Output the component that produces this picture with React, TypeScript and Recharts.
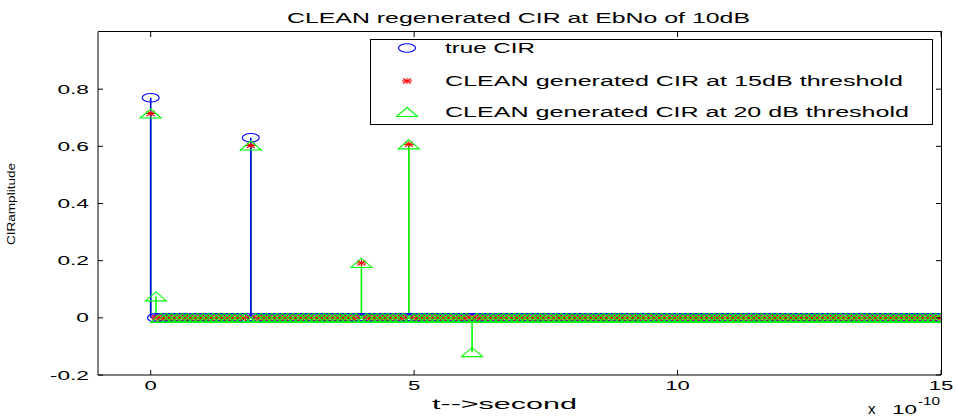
import { ScatterChart, Scatter, XAxis, YAxis, ErrorBar } from "recharts";

const FONT = '"Liberation Sans", Arial, sans-serif';
const BLUE = "#0000ff";
const RED = "#ff0000";
const GREEN = "#00ff00";

// sample grid of the CIR, in units of 1e-10 s
const sampleTimes = Array.from({ length: 151 }, (_, i) => i / 10);

// non-zero taps [time, amplitude]; every other sample sits on 0
const trueTaps: [number, number][] = [
  [0, 0.77],
  [1.9, 0.63],
];
const clean15Taps: [number, number][] = [
  [0, 0.715],
  [1.9, 0.603],
  [4.0, 0.192],
  [4.9, 0.607],
];
const clean20Taps: [number, number][] = [
  [0, 0.715],
  [0.1, 0.075],
  [1.9, 0.603],
  [4.0, 0.192],
  [4.9, 0.607],
  [6.1, -0.12],
];

const xTicks = [0, 5, 10, 15];
const yTicks = [-0.2, 0, 0.2, 0.4, 0.6, 0.8];
const xDomain = [-1, 15];
const yDomain = [-0.2, 1];

// layout
const W = 956;
const H = 419;
const MARGIN = { top: 32, right: 15, bottom: 0, left: 38 };
const Y_AXIS_W = 60;
const X_AXIS_H = 44;
const plotLeft = MARGIN.left + Y_AXIS_W;
const plotRight = W - MARGIN.right;
const plotTop = MARGIN.top;
const plotBottom = H - MARGIN.bottom - X_AXIS_H;

function samples(taps: [number, number][]) {
  return sampleTimes.map((t) => {
    const hit = taps.find(([tt]) => Math.abs(tt - t) < 1e-6);
    return { t, v: hit ? hit[1] : 0 };
  });
}

function stems(taps: [number, number][]) {
  return taps.map(([t, v]) => ({ t, v, err: [v, 0] }));
}

const trueData = samples(trueTaps);
const clean15Data = samples(clean15Taps);
const clean20Data = samples(clean20Taps);

// markers (the figure is stretched horizontally, so symbols are wide)
const CircleMark = ({ cx, cy }: any) => (
  <ellipse cx={cx} cy={cy} rx={8.5} ry={4.2} fill="none" stroke={BLUE} strokeWidth={1.1} />
);

const StarMark = ({ cx, cy }: any) => (
  <g stroke={RED} strokeWidth={1.1}>
    <line x1={cx - 5} y1={cy} x2={cx + 5} y2={cy} />
    <line x1={cx} y1={cy - 3} x2={cx} y2={cy + 3} />
    <line x1={cx - 4} y1={cy - 2.5} x2={cx + 4} y2={cy + 2.5} />
    <line x1={cx - 4} y1={cy + 2.5} x2={cx + 4} y2={cy - 2.5} />
  </g>
);

const TriangleMark = ({ cx, cy }: any) => (
  <polygon
    points={`${cx},${cy - 4.5} ${cx + 10.5},${cy + 4.5} ${cx - 10.5},${cy + 4.5}`}
    fill="none"
    stroke={GREEN}
    strokeWidth={1.1}
  />
);

const NoMark = () => <g />;

const fmt = (v: number) => String(v);

const BottomTick = ({ x, y, payload }: any) => (
  <g>
    <line x1={x} y1={y} x2={x} y2={y - 5} stroke="#000" />
    <text
      transform={`translate(${x},${y + 15}) scale(1.7,1)`}
      textAnchor="middle"
      fontSize={13}
      fontFamily={FONT}
      fill="#000"
    >
      {fmt(payload.value)}
    </text>
  </g>
);

const LeftTick = ({ x, y, payload }: any) => (
  <g>
    <line x1={x} y1={y} x2={x + 5} y2={y} stroke="#000" />
    <text
      transform={`translate(${x - 9},${y + 4.5}) scale(1.75,1)`}
      textAnchor="end"
      fontSize={13}
      fontFamily={FONT}
      fill="#000"
    >
      {fmt(payload.value)}
    </text>
  </g>
);

// inward ticks on the top and right edges of the axes box
function BoxTicks() {
  const px = (t: number) => plotLeft + ((t - xDomain[0]) / (xDomain[1] - xDomain[0])) * (plotRight - plotLeft);
  const py = (v: number) => plotBottom - ((v - yDomain[0]) / (yDomain[1] - yDomain[0])) * (plotBottom - plotTop);
  return (
    <g fill="#000">
      {xTicks.map((t) => (
        <rect key={`t${t}`} x={px(t) - 0.5} y={plotTop} width={1} height={5} />
      ))}
      {yTicks.map((v) => (
        <rect key={`r${v}`} x={plotRight - 5} y={py(v) - 0.5} width={5} height={1} />
      ))}
    </g>
  );
}

function Overlay() {
  const txt = { fontFamily: FONT, fill: "#000" };
  return (
    <svg width={W} height={H} style={{ position: "absolute", left: 0, top: 0, pointerEvents: "none" }}>
      <text x={287} y={23} fontSize={14} textLength={463} lengthAdjust="spacingAndGlyphs" {...txt}>
        CLEAN regenerated CIR at EbNo of 10dB
      </text>

      <rect x={370.5} y={39.5} width={562} height={85} fill="#fff" stroke="#000" strokeWidth={1} />
      <CircleMark cx={407} cy={48} />
      <StarMark cx={407} cy={81} />
      <TriangleMark cx={407} cy={112} />
      <text x={445} y={53} fontSize={14} textLength={90} lengthAdjust="spacingAndGlyphs" {...txt}>
        true CIR
      </text>
      <text x={445} y={86} fontSize={14} textLength={458} lengthAdjust="spacingAndGlyphs" {...txt}>
        CLEAN generated CIR at 15dB threshold
      </text>
      <text x={445} y={117} fontSize={14} textLength={464} lengthAdjust="spacingAndGlyphs" {...txt}>
        CLEAN generated CIR at 20 dB threshold
      </text>

      <text x={432} y={409} fontSize={14} textLength={145} lengthAdjust="spacingAndGlyphs" {...txt}>
        t--&gt;second
      </text>

      <text x={868} y={414} fontSize={15} {...txt}>
        x
      </text>
      <text x={892} y={414} fontSize={13} textLength={25} lengthAdjust="spacingAndGlyphs" {...txt}>
        10
      </text>
      <text x={918} y={405} fontSize={10} textLength={22} lengthAdjust="spacingAndGlyphs" {...txt}>
        -10
      </text>

      <text
        x={15}
        y={204}
        transform="rotate(-90 15 204)"
        textAnchor="middle"
        fontSize={11}
        textLength={82}
        lengthAdjust="spacingAndGlyphs"
        {...txt}
      >
        CIRamplitude
      </text>

      <BoxTicks />
    </svg>
  );
}

export default function App() {
  const common = { isAnimationActive: false } as const;
  return (
    <div style={{ position: "absolute", left: 0, top: 0, width: W, height: H, background: "#fff" }}>
      <ScatterChart width={W} height={H} margin={MARGIN}>
        <XAxis
          type="number"
          dataKey="t"
          domain={xDomain}
          ticks={xTicks}
          interval={0}
          height={X_AXIS_H}
          tickSize={0}
          tickMargin={0}
          tickLine={false}
          axisLine={{ stroke: "#000" }}
          tick={BottomTick}
          allowDataOverflow
        />
        <YAxis
          type="number"
          dataKey="v"
          domain={yDomain}
          ticks={yTicks}
          interval={0}
          width={Y_AXIS_W}
          tickSize={0}
          tickMargin={0}
          tickLine={false}
          axisLine={{ stroke: "#000" }}
          tick={LeftTick}
          allowDataOverflow
        />

        {/* stems */}
        <Scatter {...common} data={stems(clean15Taps)} dataKey="v" shape={NoMark}>
          <ErrorBar dataKey="err" direction="y" width={0} stroke={RED} strokeWidth={1} />
        </Scatter>
        <Scatter {...common} data={stems(clean20Taps)} dataKey="v" shape={NoMark}>
          <ErrorBar dataKey="err" direction="y" width={0} stroke={GREEN} strokeWidth={1.6} />
        </Scatter>
        <Scatter {...common} data={stems(trueTaps)} dataKey="v" shape={NoMark}>
          <ErrorBar dataKey="err" direction="y" width={0} stroke={BLUE} strokeWidth={1.6} />
        </Scatter>

        {/* markers */}
        <Scatter {...common} data={trueData} dataKey="v" shape={CircleMark} />
        <Scatter {...common} data={clean15Data} dataKey="v" shape={StarMark} />
        <Scatter {...common} data={clean20Data} dataKey="v" shape={TriangleMark} />
      </ScatterChart>
      <Overlay />
      {/* top and right edges of the axes box */}
      <div
        style={{
          position: "absolute",
          left: plotLeft,
          top: plotTop - 1,
          width: plotRight - plotLeft,
          height: plotBottom - plotTop,
          borderTop: "1px solid #000",
          borderRight: "1px solid #000",
          pointerEvents: "none",
        }}
      />
    </div>
  );
}
